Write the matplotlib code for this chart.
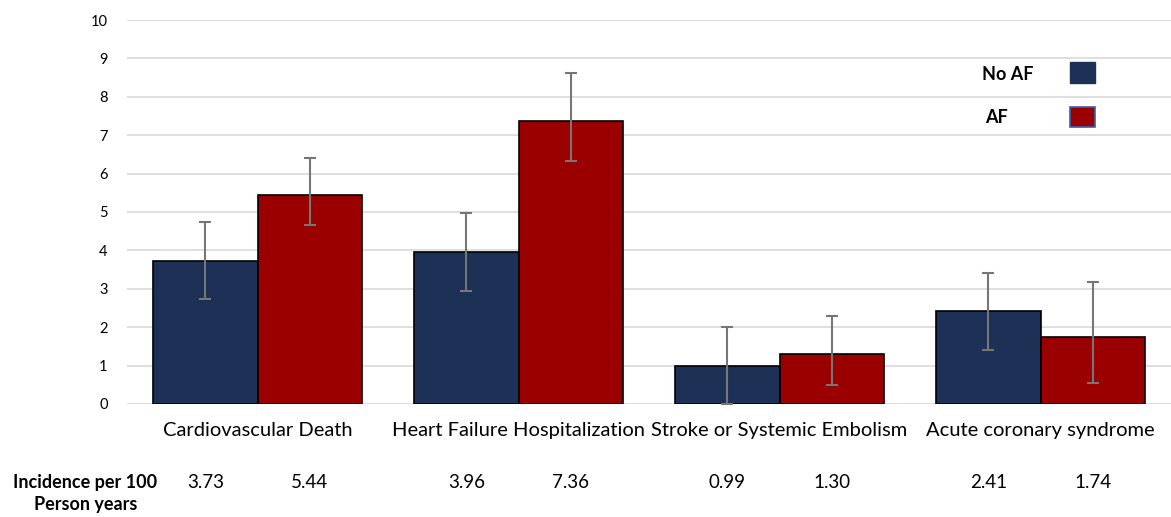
"""Incidence of outcomes with and without AF, grouped bar chart."""

import matplotlib

matplotlib.use("Agg")
import matplotlib.pyplot as plt
import matplotlib.transforms as mtransforms
import numpy as np
from matplotlib.patches import Patch

categories = [
    "Cardiovascular Death",
    "Heart Failure Hospitalization",
    "Stroke or Systemic Embolism",
    "Acute coronary syndrome",
]
no_af = [3.73, 3.96, 0.99, 2.41]
af = [5.44, 7.36, 1.30, 1.74]

# confidence limits
no_af_low = [2.73, 2.95, 0.00, 1.41]
no_af_high = [4.73, 4.97, 2.00, 3.40]
af_low = [4.65, 6.34, 0.50, 0.54]
af_high = [6.40, 8.62, 2.30, 3.18]

series_labels = ["No AF", "AF"]
row_label = "Incidence per 100\nPerson years"

NAVY = "#1d3056"
RED = "#9b0000"
ERR = "#767676"

plt.rcParams["font.family"] = ["Lato", "DejaVu Sans"]

fig = plt.figure(figsize=(11.71, 5.17), dpi=100)
ax = fig.add_axes([0.1085, 0.2186, 0.8915, 0.7427])

x = np.arange(len(categories))
width = 0.4

for offset, vals, low, high, color in [
    (-width / 2, no_af, no_af_low, no_af_high, NAVY),
    (width / 2, af, af_low, af_high, RED),
]:
    vals = np.array(vals)
    yerr = [vals - np.array(low), np.array(high) - vals]
    ax.bar(
        x + offset,
        vals,
        width,
        color=color,
        edgecolor="black",
        linewidth=1.2,
        zorder=2,
    )
    ax.errorbar(
        x + offset,
        vals,
        yerr=yerr,
        fmt="none",
        ecolor=ERR,
        elinewidth=1.5,
        capsize=4,
        capthick=1.5,
        zorder=3,
    )

ax.set_xlim(-0.5, 3.5)
ax.set_ylim(0, 10)
ax.set_yticks(range(0, 11))
ax.yaxis.grid(True, color="#d9d9d9", linewidth=1.2, zorder=0)
ax.set_axisbelow(True)
for spine in ax.spines.values():
    spine.set_visible(False)
ax.tick_params(axis="both", length=0)
ax.tick_params(axis="y", labelsize=10.5, pad=14)
ax.set_xticks(x)
ax.set_xticklabels(categories, fontsize=14.5)
ax.tick_params(axis="x", pad=13)

# incidence row under the chart
trans = mtransforms.blended_transform_factory(ax.transData, fig.transFigure)
for i in range(len(categories)):
    ax.text(x[i] - width / 2, 0.067, f"{no_af[i]:.2f}", transform=trans,
            ha="center", va="center", fontsize=13.5)
    ax.text(x[i] + width / 2, 0.067, f"{af[i]:.2f}", transform=trans,
            ha="center", va="center", fontsize=13.5)
fig.text(0.073, 0.045, row_label, ha="center", va="center",
         fontsize=13, fontweight="bold", linespacing=1.35)

# legend: swatches on the right, labels placed to their left
handles = [
    Patch(facecolor=NAVY, edgecolor=NAVY),
    Patch(facecolor=RED, edgecolor="#3a5fb0", linewidth=1.2),
]
ax.legend(
    handles=handles,
    labels=["", ""],
    loc="upper right",
    bbox_to_anchor=(0.927, 0.89),
    borderaxespad=0,
    borderpad=0,
    frameon=False,
    handlelength=1.4,
    handleheight=1.4,
    labelspacing=1.3,
    handletextpad=0,
    prop={"size": 13},
)
ax.text(0.819, 0.857, series_labels[0], transform=ax.transAxes,
        ha="left", va="center", fontsize=13, fontweight="bold")
ax.text(0.822, 0.745, series_labels[1], transform=ax.transAxes,
        ha="left", va="center", fontsize=13, fontweight="bold")

fig.savefig("out.png", dpi=100)
